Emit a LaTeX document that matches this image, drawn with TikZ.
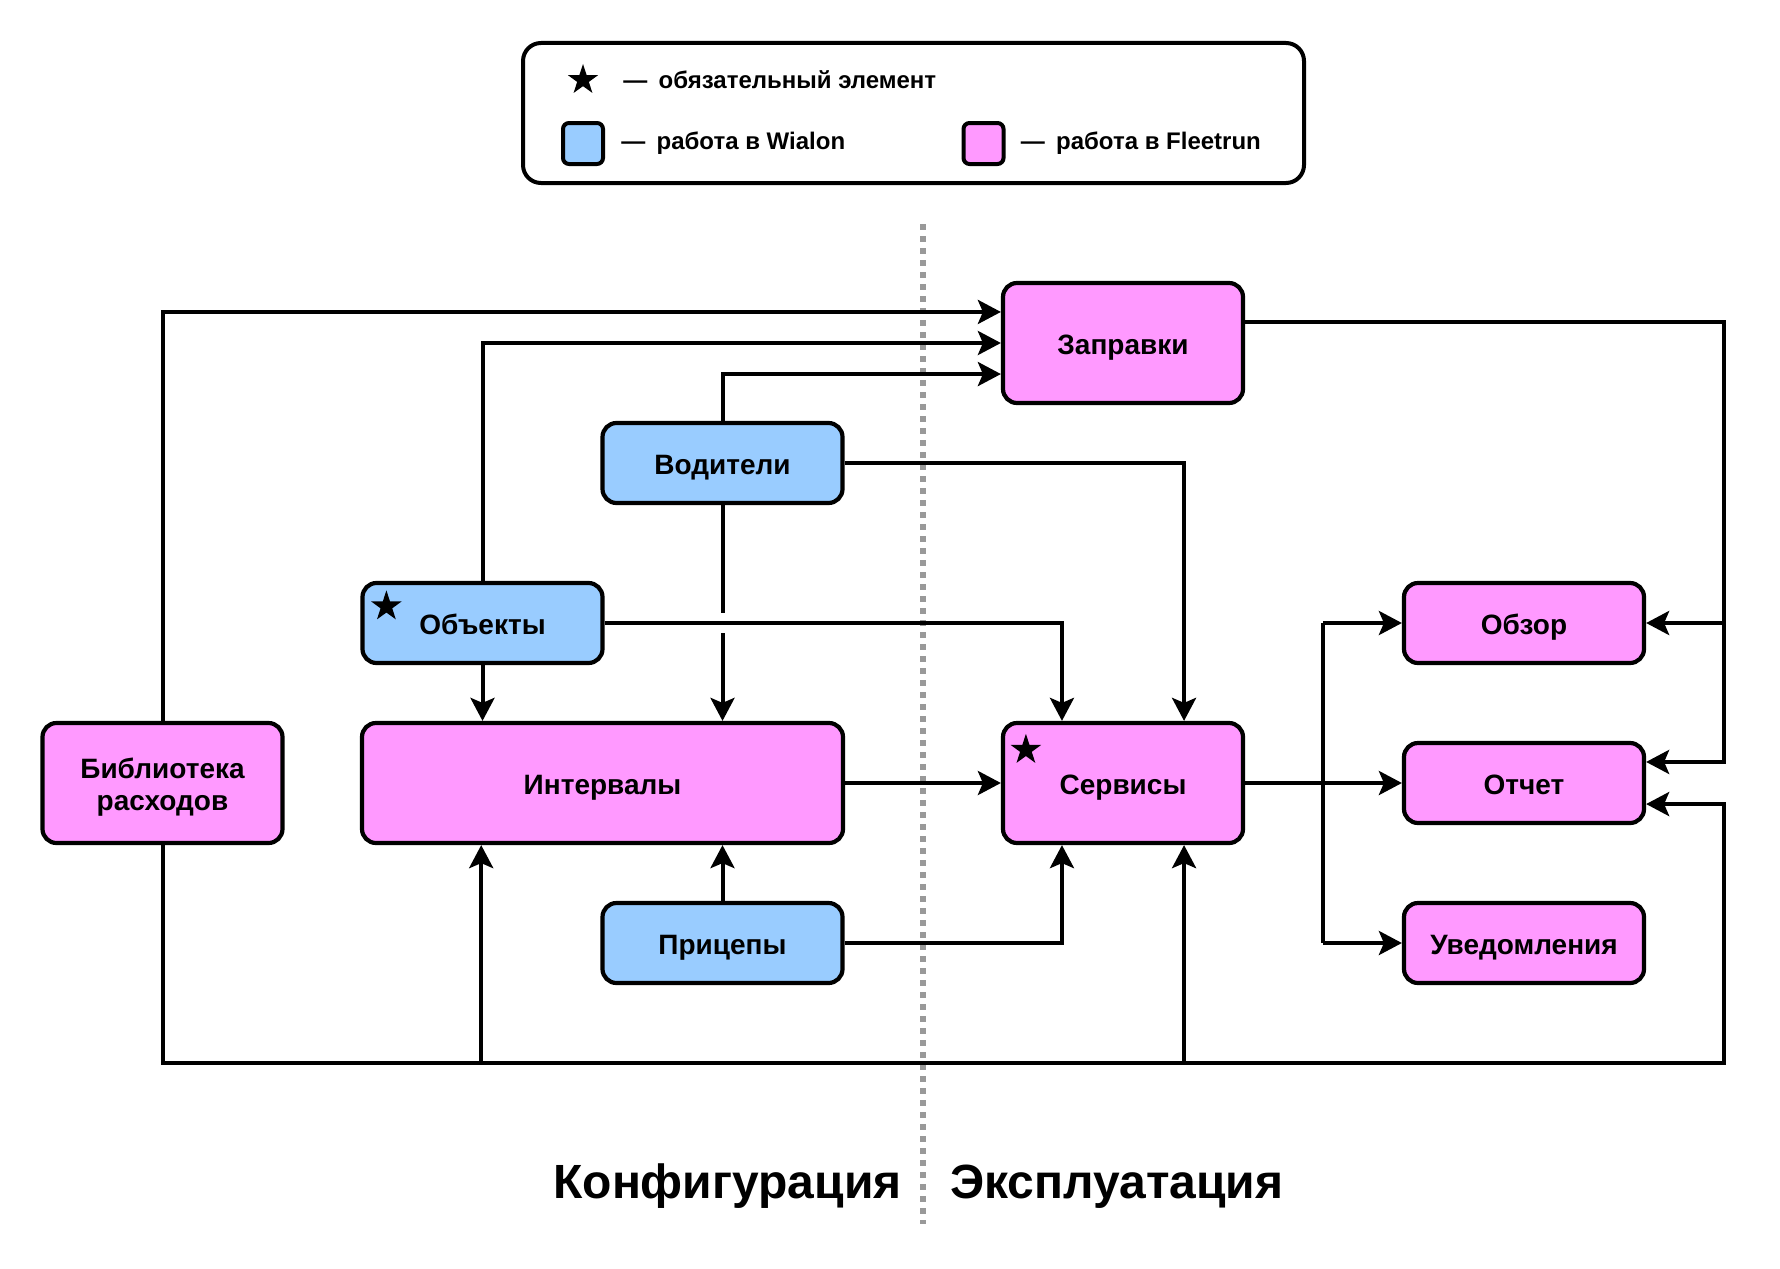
\documentclass[tikz,border=0pt]{standalone}
\usepackage{fontspec}
\setmainfont{Liberation Sans}
\usetikzlibrary{shapes.geometric,arrows.meta,calc}
\definecolor{wialon}{RGB}{153,204,255}
\definecolor{fleetrun}{RGB}{255,153,255}
\definecolor{divider}{RGB}{153,153,153}
\tikzset{
  block/.style={draw, line width=2.1pt, rounded corners=7pt, minimum width=120pt, font=\fontsize{14}{16}\selectfont\bfseries, align=center, text height=11.5pt, text depth=0pt},
  wblock/.style={block, fill=wialon, minimum height=40pt},
  fblock/.style={block, fill=fleetrun, minimum height=60pt},
  reqstar/.style={star, star points=5, star point ratio=2.6, fill=black, minimum size=16pt, inner sep=0pt},
  legtext/.style={font=\fontsize{12}{14}\selectfont\bfseries, inner sep=0pt, anchor=west},
  legbox/.style={draw, line width=2pt, rounded corners=3pt, minimum width=20pt, minimum height=20.5pt, inner sep=0pt},
  phase/.style={font=\fontsize{24}{28}\selectfont\bfseries, inner sep=0pt},
  link/.style={line width=2pt},
  flow/.style={link, -{Stealth[length=11.5pt, width=12pt, inset=2.5pt]}}
}
\newcommand{\legdash}{—\hspace{5.6pt}}
\begin{document}
\begin{tikzpicture}[x=0.5pt, y=-0.5pt]
  \useasboundingbox (0,0) rectangle (1780,1268);

  \node[draw, line width=2pt, rounded corners=9pt, minimum width=390.5pt, minimum height=70pt] (legend) at (913.5,113) {};
  \node[reqstar] (legstar) at (583,80) {};
  \node[legtext] (legreq) at ([xshift=20pt]legstar.center) {\legdash обязательный элемент};
  \node[legbox, fill=wialon] (legwialon) at (583,143.5) {};
  \node[legtext] (legwtext) at ([xshift=8pt]legwialon.east) {\legdash работа в Wialon};
  \node[legbox, fill=fleetrun] (legfleet) at (983.5,143.5) {};
  \node[legtext] (legftext) at ([xshift=7.5pt]legfleet.east) {\legdash работа в Fleetrun};

  \draw[divider, line width=3pt, dash pattern=on 3pt off 3pt] (923,224) -- (923,1223.5);

  \node[fblock] (zapravki) at (1123,343) {Заправки};
  \node[wblock] (voditeli) at (722.5,463) {Водители};
  \node[wblock] (obekty) at (482.5,623) {Объекты};
  \node[fblock, text height=27.5pt] (biblio) at (162.5,783) {Библиотека\\расходов};
  \node[fblock, minimum width=240.5pt] (intervaly) at (602.5,783) {Интервалы};
  \node[fblock] (servisy) at (1123,783) {Сервисы};
  \node[wblock] (pricepy) at (722.5,943) {Прицепы};
  \node[fblock, minimum height=40pt] (obzor) at (1524,623) {Обзор};
  \node[fblock, minimum height=40pt] (otchet) at (1524,783) {Отчет};
  \node[fblock, minimum height=40pt] (uvedoml) at (1524,943) {Уведомления};

  \node[reqstar] (obstar) at ([xshift=13pt, yshift=-12.75pt]obekty.north west) {};
  \node[reqstar] (servstar) at ([xshift=12.5pt, yshift=-14.5pt]servisy.north west) {};

  \coordinate (zap-w1) at ($(zapravki.north west)!0.25!(zapravki.south west)$);
  \coordinate (zap-w3) at ($(zapravki.north west)!0.75!(zapravki.south west)$);
  \coordinate (zap-e) at ($(zapravki.north east)!0.333!(zapravki.south east)$);
  \coordinate (serv-n1) at ($(servisy.north west)!0.25!(servisy.north east)$);
  \coordinate (serv-n3) at ($(servisy.north west)!0.75!(servisy.north east)$);
  \coordinate (serv-s1) at ($(servisy.south west)!0.25!(servisy.south east)$);
  \coordinate (serv-s3) at ($(servisy.south west)!0.75!(servisy.south east)$);
  \coordinate (int-s1) at ($(intervaly.south west)!0.25!(intervaly.south east)$);
  \coordinate (ot-e1) at ($(otchet.north east)!0.25!(otchet.south east)$);
  \coordinate (ot-e3) at ($(otchet.north east)!0.75!(otchet.south east)$);
  \coordinate (bus) at ([yshift=-109pt]biblio.south);
  \coordinate (rbus) at ([xshift=39pt]otchet.east);
  \coordinate (split) at ([xshift=39pt]servisy.east);
  \coordinate (jump) at (voditeli.south |- obekty.east);

  \draw[flow] (biblio.north) |- (zap-w1);
  \draw[flow] (obekty.north) |- (zapravki.west);
  \draw[flow] (voditeli.north) |- (zap-w3);
  \draw[flow] (voditeli.east) -| (serv-n3);
  \draw[flow] (obekty.east) -| (serv-n1);
  \draw[flow] (obekty.south) -- (obekty.south |- intervaly.north);
  \draw[link] (voditeli.south) -- ([yshift=5pt]jump);
  \draw[flow] ([yshift=-5pt]jump) -- (voditeli.south |- intervaly.north);
  \draw[flow] (intervaly.east) -- (servisy.west);
  \draw[flow] (pricepy.north) -- (pricepy.north |- intervaly.south);
  \draw[flow] (pricepy.east) -| (serv-s1);

  \draw[flow] (biblio.south) |- (bus -| rbus) |- (ot-e3);
  \draw[flow] (bus -| int-s1) -- (int-s1);
  \draw[flow] (bus -| serv-s3) -- (serv-s3);

  \draw[flow] (zap-e) -| (rbus |- ot-e1) -- (ot-e1);
  \draw[flow] (rbus |- obzor.east) -- (obzor.east);

  \draw[flow] (servisy.east) -- (servisy.east -| otchet.west);
  \draw[link] (split |- obzor.west) -- (split |- uvedoml.west);
  \draw[flow] (split |- obzor.west) -- (obzor.west);
  \draw[flow] (split |- uvedoml.west) -- (uvedoml.west);

  \node[phase, anchor=base east] (konfig) at (902,1198.5) {Конфигурация};
  \node[phase, anchor=base west] (ekspl) at (950,1198.5) {Эксплуатация};
\end{tikzpicture}
\end{document}
